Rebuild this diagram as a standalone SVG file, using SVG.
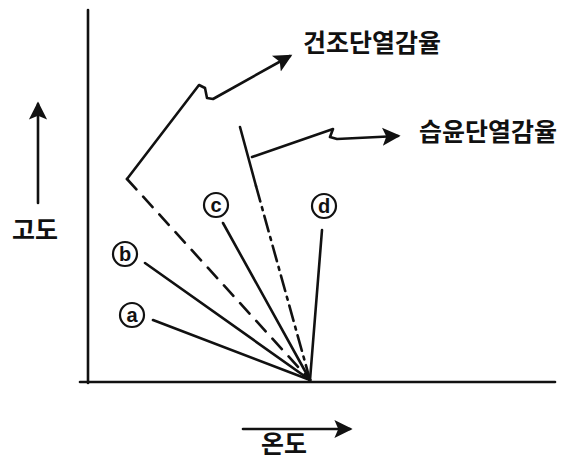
<svg xmlns="http://www.w3.org/2000/svg" width="580" height="460" viewBox="0 0 580 460">
<style>
.ln{fill:none;stroke:#111;stroke-width:2.6;stroke-linecap:round;stroke-linejoin:round}
.lbl{font-family:"Noto Sans CJK KR","Noto Sans",sans-serif;font-weight:bold;fill:#111;font-size:25px}
.cl{font-family:"Liberation Sans",Arial,sans-serif;font-weight:bold;font-size:20px;fill:#111;text-anchor:middle}
.cc{fill:#fff;stroke:#111;stroke-width:2.2}
</style>
<defs>
<marker id="ah" markerWidth="8" markerHeight="8" refX="6" refY="4" orient="auto" markerUnits="strokeWidth">
<path d="M0,0.5 L7,4 L0,7.5 L1.5,4 Z" fill="#111"/>
</marker>
</defs>
<rect width="580" height="460" fill="#fff"/>
<g id="axes">
<line class="ln" x1="88" y1="10" x2="88" y2="383"/>
<line class="ln" x1="80" y1="382" x2="555" y2="382"/>
</g>
<g id="connectors">
<line class="ln" x1="153" y1="320" x2="310" y2="380"/>
<line class="ln" x1="145" y1="263" x2="310" y2="380"/>
<line class="ln" x1="223" y1="223" x2="310" y2="380"/>
<line class="ln" x1="322" y1="230" x2="310" y2="380"/>
<line class="ln" x1="127" y1="179" x2="310" y2="380" stroke-dasharray="14,10"/>
<line class="ln" x1="256" y1="186" x2="310" y2="380" stroke-dasharray="16,6,3,6"/>
<line class="ln" x1="240" y1="127" x2="256" y2="186"/>
<path class="ln" d="M127,179 L199,85 L205,88 L207,98 L213,99 L290,56" marker-end="url(#ah)"/>
<path class="ln" d="M252,157 L333,129 L330,137 L337,139 L398,136" marker-end="url(#ah)"/>
<line class="ln" x1="38" y1="203" x2="38" y2="104" marker-end="url(#ah)"/>
<line class="ln" x1="243" y1="429" x2="350" y2="429" marker-end="url(#ah)"/>
</g>
<g id="node-a"><circle class="cc" cx="132" cy="315" r="12"/><text class="cl" x="132" y="322">a</text></g>
<g id="node-b"><circle class="cc" cx="125" cy="254" r="12"/><text class="cl" x="125" y="261">b</text></g>
<g id="node-c"><circle class="cc" cx="216" cy="205" r="12"/><text class="cl" x="216" y="212">c</text></g>
<g id="node-d"><circle class="cc" cx="324" cy="206" r="12"/><text class="cl" x="324" y="213">d</text></g>
<g id="label-dry"><text class="lbl" x="303" y="52">건조단열감율</text></g>
<g id="label-moist"><text class="lbl" x="419" y="141">습윤단열감율</text></g>
<g id="label-alt"><text class="lbl" x="12" y="239">고도</text></g>
<g id="label-temp"><text class="lbl" x="261" y="453" font-size="22">온도</text></g>
</svg>
